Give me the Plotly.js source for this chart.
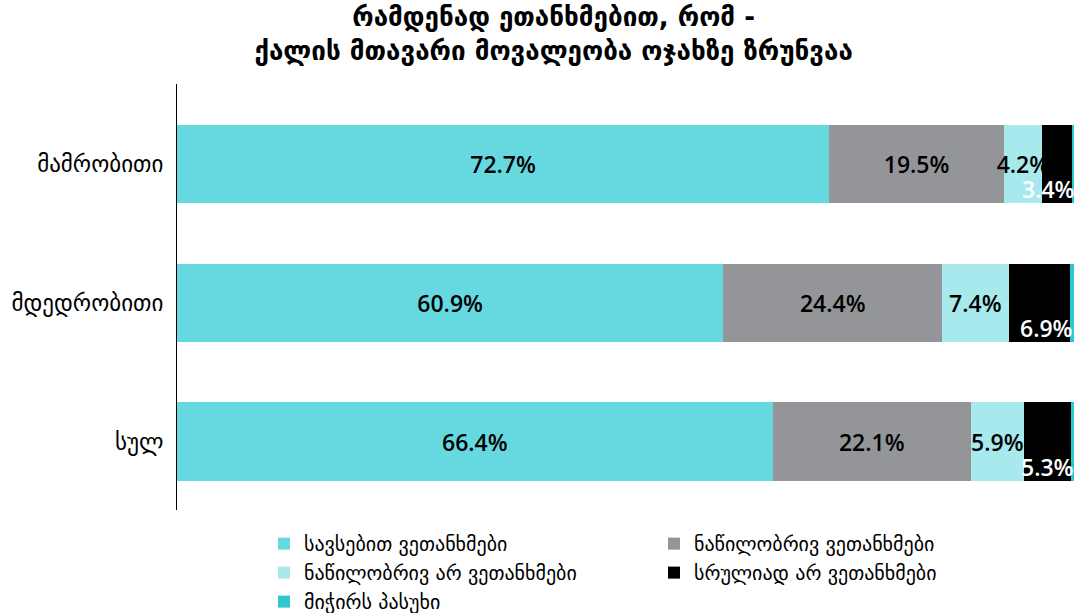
<!DOCTYPE html>
<html>
<head>
<meta charset="utf-8">
<script src="https://cdn.plot.ly/plotly-3.0.1.min.js"></script>
<style>html,body{margin:0;padding:0;background:#fff;}#chart{width:1075px;height:613px;}</style>
</head>
<body>
<div id="chart"></div>
<script>
const categories = ["მამრობითი", "მდედრობითი", "სულ"];
const seriesNames = ["სავსებით ვეთანხმები", "ნაწილობრივ ვეთანხმები", "ნაწილობრივ არ ვეთანხმები", "სრულიად არ ვეთანხმები", "მიჭირს პასუხი"];
const fullyAgree = [72.7, 60.9, 66.4];
const partlyAgree = [19.5, 24.4, 22.1];
const partlyDisagree = [4.2, 7.4, 5.9];
const fullyDisagree = [3.4, 6.9, 5.3];
const hardToSay = [0.2, 0.4, 0.3];
const colors = ["#66D9E0", "#939598", "#A8E9EE", "#000000", "#2BC8D0"];

const values = [fullyAgree, partlyAgree, partlyDisagree, fullyDisagree, hardToSay];
const fmt = v => v.toFixed(1) + "%";
const labelFont = {family: "Open Sans, Noto Sans, sans-serif", size: 23, color: "#000", weight: 600};

const traces = values.map((vals, i) => ({
  type: "bar",
  orientation: "h",
  name: seriesNames[i],
  y: categories,
  x: vals,
  marker: {color: colors[i], line: {width: 0}},
  text: i < 3 ? vals.map(fmt) : undefined,
  textposition: i < 3 ? "inside" : "none",
  insidetextanchor: "middle",
  textangle: 0,
  constraintext: "none",
  textfont: labelFont,
  insidetextfont: labelFont,
  hoverinfo: "none",
  cliponaxis: false
}));

const annotations = categories.map((c, k) => ({
  x: fullyAgree[k] + partlyAgree[k] + partlyDisagree[k] + fullyDisagree[k],
  y: c,
  xref: "x", yref: "y",
  text: fmt(fullyDisagree[k]),
  showarrow: false,
  xanchor: "right",
  yanchor: "middle",
  xshift: 4,
  yshift: -25,
  font: {family: "Open Sans, Noto Sans, sans-serif", size: 23, color: "#fff", weight: 600}
}));

const layout = {
  width: 1075, height: 613,
  margin: {l: 177, r: 1, t: 84, b: 103},
  paper_bgcolor: "#fff", plot_bgcolor: "#fff",
  barmode: "stack",
  bargap: 0.432,
  uniformtext: {mode: false},
  title: {
    text: "რამდენად ეთანხმებით, რომ -<br>ქალის მთავარი მოვალეობა ოჯახზე ზრუნვაა",
    font: {family: "DejaVu Sans, sans-serif", size: 26, color: "#000", weight: "bold"},
    x: 0.515, xanchor: "center", y: 0.957, yanchor: "middle"
  },
  xaxis: {range: [0, 100], showgrid: false, zeroline: false, showticklabels: false, showline: false, fixedrange: true},
  yaxis: {
    categoryorder: "array", categoryarray: categories, range: [2.49, -0.576],
    showgrid: false, zeroline: false, showline: true, linecolor: "#000", linewidth: 1,
    ticks: "", ticklabelstandoff: 8,
    tickfont: {family: "DejaVu Sans, sans-serif", size: 23, color: "#000"}
  },
  showlegend: true,
  legend: {
    orientation: "h", x: 0.097, xanchor: "left",
    yref: "container", y: 0.145, yanchor: "top",
    entrywidth: 345, entrywidthmode: "pixels",
    font: {family: "DejaVu Sans, sans-serif", size: 20, color: "#000"},
    traceorder: "normal", itemwidth: 30, tracegroupgap: 0
  },
  annotations: annotations
};

Plotly.newPlot("chart", traces, layout, {displayModeBar: false, staticPlot: true});
</script>
</body>
</html>
